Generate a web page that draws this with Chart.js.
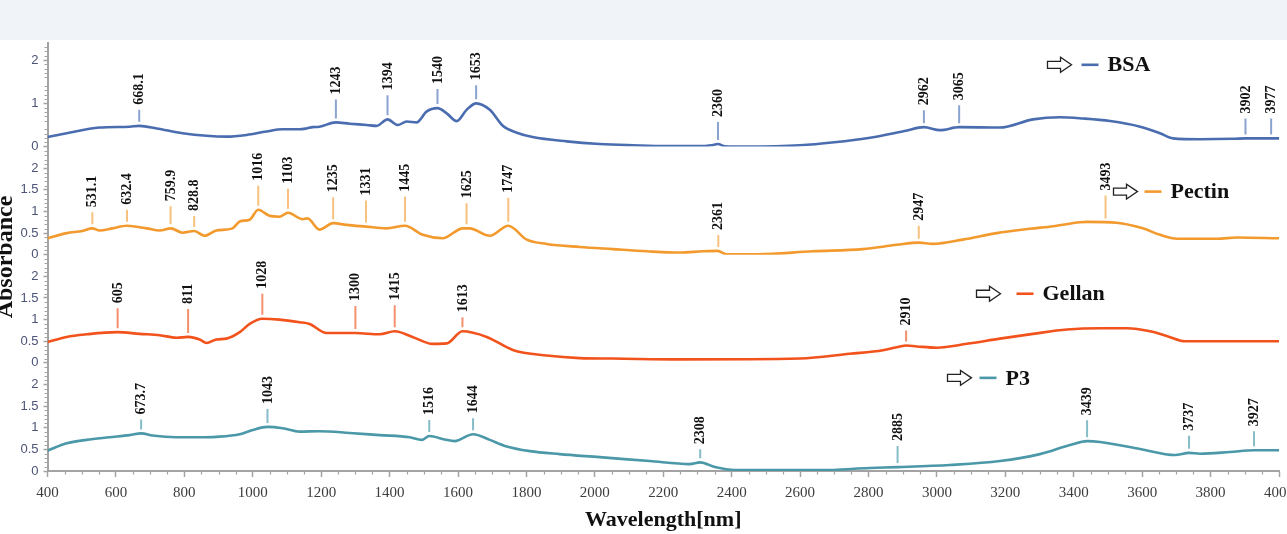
<!DOCTYPE html>
<html>
<head>
<meta charset="utf-8">
<script src="https://cdn.jsdelivr.net/npm/chart.js@4.4.0/dist/chart.umd.min.js"></script>
<style>
  html, body { margin: 0; padding: 0; background: #ffffff; }
  #wrap { position: relative; width: 1287px; height: 534px; overflow: hidden; }
  #band { position: absolute; left: 0; top: 0; width: 1287px; height: 40px; background: #f0f3f8; }
  #c { position: absolute; left: 0; top: 0; }
</style>
</head>
<body>
<div id="wrap">
  <div id="band"></div>
  <canvas id="c" width="1287" height="534"></canvas>
</div>
<script>
// ---- Spectra: wavelength (nm) and absorbance per sample ----
const bsaWl  = [400, 456, 552, 640, 669, 719, 795, 865, 923, 982, 1040, 1087, 1137, 1157, 1175, 1195, 1243, 1283, 1333, 1362, 1394, 1424, 1450, 1479, 1508, 1540, 1567, 1596, 1625, 1653, 1693, 1731, 1772, 1818, 1918, 2014, 2111, 2210, 2307, 2340, 2360, 2380, 2450, 2600, 2700, 2800, 2905, 2962, 3009, 3065, 3184, 3281, 3360, 3427, 3506, 3594, 3652, 3690, 3769, 3866, 3902, 3977, 4000];
const bsaAbs = [0.22, 0.31, 0.44, 0.46, 0.48, 0.42, 0.31, 0.25, 0.23, 0.27, 0.35, 0.40, 0.40, 0.42, 0.45, 0.46, 0.56, 0.53, 0.50, 0.48, 0.63, 0.50, 0.58, 0.56, 0.81, 0.89, 0.77, 0.59, 0.85, 1.00, 0.85, 0.48, 0.32, 0.22, 0.12, 0.06, 0.03, 0.01, 0.01, 0.03, 0.06, 0.01, 0.00, 0.03, 0.10, 0.20, 0.36, 0.45, 0.38, 0.45, 0.44, 0.63, 0.68, 0.65, 0.59, 0.46, 0.31, 0.19, 0.17, 0.18, 0.19, 0.19, 0.19];

const pectinWl  = [400, 456, 502, 531, 552, 590, 632, 690, 728, 760, 795, 829, 859, 894, 941, 962, 991, 1016, 1049, 1078, 1103, 1146, 1160, 1195, 1235, 1274, 1331, 1391, 1445, 1497, 1555, 1614, 1634, 1693, 1747, 1801, 1859, 1956, 2052, 2152, 2248, 2316, 2359, 2386, 2473, 2637, 2783, 2883, 2947, 2988, 3076, 3175, 3272, 3340, 3418, 3440, 3525, 3602, 3652, 3702, 3819, 3877, 4000];
const pectinAbs = [0.38, 0.50, 0.55, 0.61, 0.56, 0.61, 0.67, 0.61, 0.56, 0.61, 0.51, 0.55, 0.44, 0.56, 0.61, 0.77, 0.81, 1.04, 0.90, 0.88, 0.97, 0.82, 0.84, 0.58, 0.73, 0.69, 0.65, 0.61, 0.67, 0.46, 0.38, 0.61, 0.61, 0.44, 0.67, 0.35, 0.25, 0.18, 0.13, 0.08, 0.05, 0.08, 0.09, 0.01, 0.01, 0.08, 0.13, 0.23, 0.28, 0.25, 0.35, 0.50, 0.60, 0.66, 0.75, 0.76, 0.74, 0.61, 0.46, 0.37, 0.37, 0.40, 0.38];

const gellanWl  = [400, 456, 514, 605, 669, 728, 777, 811, 845, 865, 894, 923, 962, 991, 1028, 1078, 1137, 1166, 1216, 1300, 1371, 1415, 1467, 1526, 1567, 1613, 1684, 1760, 1859, 1956, 2052, 2248, 2600, 2745, 2842, 2892, 2910, 2941, 3000, 3088, 3184, 3281, 3380, 3477, 3556, 3623, 3680, 3725, 4000];
const gellanAbs = [0.48, 0.60, 0.66, 0.71, 0.67, 0.64, 0.58, 0.60, 0.54, 0.46, 0.54, 0.56, 0.71, 0.90, 1.02, 1.00, 0.94, 0.90, 0.69, 0.69, 0.66, 0.73, 0.60, 0.44, 0.45, 0.73, 0.60, 0.30, 0.17, 0.11, 0.10, 0.08, 0.10, 0.21, 0.29, 0.38, 0.40, 0.38, 0.35, 0.44, 0.56, 0.67, 0.77, 0.80, 0.80, 0.73, 0.60, 0.50, 0.50];

const p3Wl  = [400, 456, 514, 581, 640, 674, 707, 777, 845, 894, 962, 1000, 1043, 1087, 1137, 1195, 1283, 1371, 1459, 1494, 1516, 1561, 1590, 1644, 1693, 1737, 1810, 1897, 2014, 2160, 2277, 2308, 2351, 2409, 2658, 2804, 2885, 3038, 3184, 3301, 3389, 3439, 3477, 3594, 3696, 3737, 3769, 3857, 3927, 4000];
const p3Abs = [0.47, 0.64, 0.72, 0.78, 0.83, 0.87, 0.82, 0.78, 0.78, 0.79, 0.85, 0.95, 1.02, 0.99, 0.91, 0.92, 0.88, 0.83, 0.78, 0.72, 0.81, 0.73, 0.69, 0.85, 0.72, 0.58, 0.46, 0.39, 0.32, 0.23, 0.16, 0.20, 0.09, 0.02, 0.02, 0.07, 0.09, 0.14, 0.23, 0.39, 0.60, 0.69, 0.67, 0.51, 0.37, 0.42, 0.40, 0.44, 0.48, 0.48];

// ---- Annotated band positions (nm) ----
const bsaPeaks    = [668.1, 1243, 1394, 1540, 1653, 2360, 2962, 3065, 3902, 3977];
const pectinPeaks = [531.1, 632.4, 759.9, 828.8, 1016, 1103, 1235, 1331, 1445, 1625, 1747, 2361, 2947, 3493];
const gellanPeaks = [605, 811, 1028, 1300, 1415, 1613, 2910];
const p3Peaks     = [673.7, 1043, 1516, 1644, 2308, 2885, 3439, 3737, 3927];

// stem length (px) of each band marker
const bsaStems    = [12, 19, 20, 15, 14, 18, 13, 18, 16, 16];
const pectinStems = [12, 12, 18, 11, 20, 20, 22, 22, 25, 21, 24, 12, 13, 23];
const gellanStems = [20, 24, 21, 23, 22, 10, 11];
const p3Stems     = [10, 14, 12, 12, 9, 17, 17, 13, 15];

// ---- Axis ticks ----
const xTicks       = [400, 600, 800, 1000, 1200, 1400, 1600, 1800, 2000, 2200, 2400, 2600, 2800, 3000, 3200, 3400, 3600, 3800, 4000];
const bsaYTicks    = [0, 1, 2];
const panelYTicks  = [0, 0.5, 1, 1.5, 2];

const SERIF = '"Liberation Serif", "Times New Roman", serif';
const SANS  = '"Liberation Sans", Arial, sans-serif';
const AXIS_GRAY = '#a3a3a3';

function points(xs, ys) { return xs.map((x, i) => ({ x: x, y: ys[i] })); }

function yAxis(max, tickList) {
  return {
    type: 'linear', position: 'left', stack: 'spectra', stackWeight: max,
    min: 0, max: max,
    afterBuildTicks: s => { s.ticks = tickList.map(v => ({ value: v })); },
    ticks: { font: { family: SANS, size: 13 }, color: '#4b5377', padding: 5, autoSkip: false,
             callback: v => String(v) },
    grid: { drawOnChartArea: false, tickLength: 4, color: AXIS_GRAY, tickWidth: 1.5 },
    border: { color: AXIS_GRAY, width: 2 },
    afterFit: s => { s.width = 47.5; s.paddingTop = 0; s.paddingBottom = 0; }
  };
}

function series(label, xs, ys, axis, color, markColor, peaks, stems, legend) {
  return {
    label: label, data: points(xs, ys), yAxisID: axis,
    borderColor: color, backgroundColor: color, borderWidth: 2.6,
    pointRadius: 0, cubicInterpolationMode: 'monotone', fill: false,
    peaks: peaks, stems: stems, markColor: markColor, legend: legend
  };
}

function valueAt(ds, w) {
  const d = ds.data;
  for (let i = 1; i < d.length; i++) {
    if (w <= d[i].x) {
      const t = (w - d[i - 1].x) / (d[i].x - d[i - 1].x);
      return d[i - 1].y + t * (d[i].y - d[i - 1].y);
    }
  }
  return d[d.length - 1].y;
}

// Minor ticks on both axes
const minorTicks = {
  id: 'minorTicks',
  afterDraw(chart) {
    const ctx = chart.ctx, ca = chart.chartArea, xs = chart.scales.x;
    ctx.save();
    ctx.strokeStyle = AXIS_GRAY; ctx.lineWidth = 1.2;
    ctx.beginPath();
    for (let v = 450; v < 4000; v += 50) {
      if (v % 200 === 0) continue;
      const px = Math.round(xs.getPixelForValue(v)) + 0.5;
      ctx.moveTo(px, ca.bottom); ctx.lineTo(px, ca.bottom + 3.5);
    }
    ['yBsa', 'yPectin', 'yGellan', 'yP3'].forEach(id => {
      const s = chart.scales[id];
      for (let k = 1; k < Math.round(s.max * 10); k++) {
        if (k % 5 === 0) continue;
        const py = Math.round(s.getPixelForValue(k / 10)) + 0.5;
        ctx.moveTo(ca.left - 3, py); ctx.lineTo(ca.left, py);
      }
    });
    ctx.stroke();
    ctx.restore();
  }
};

// Band markers with rotated wavelength labels, and the per-panel legend
const bandLabels = {
  id: 'bandLabels',
  afterDatasetsDraw(chart) {
    const ctx = chart.ctx, ca = chart.chartArea, xs = chart.scales.x;
    chart.data.datasets.forEach(ds => {
      const ys = chart.scales[ds.yAxisID];
      ctx.save();
      ctx.beginPath();
      ctx.rect(0, ys.top, chart.width, ys.bottom - ys.top);
      ctx.clip();
      ds.peaks.forEach((w, i) => {
        const px = xs.getPixelForValue(w);
        const py = ys.getPixelForValue(valueAt(ds, w));
        const y0 = py - 4, y1 = y0 - ds.stems[i];
        ctx.strokeStyle = ds.markColor; ctx.lineWidth = 2;
        ctx.beginPath(); ctx.moveTo(px, y0); ctx.lineTo(px, y1); ctx.stroke();
        ctx.save();
        ctx.translate(px, y1 - 5);
        ctx.rotate(-Math.PI / 2);
        ctx.fillStyle = '#111111';
        ctx.font = 'bold 14px ' + SERIF;
        ctx.textAlign = 'left'; ctx.textBaseline = 'middle';
        ctx.fillText(String(w), 0, 0.5);
        ctx.restore();
      });
      ctx.restore();

      // legend: hollow arrow, colour dash, name
      const lg = ds.legend;
      const ax = ca.left + lg.dx, ay = ys.top + lg.dy;
      ctx.save();
      ctx.beginPath();
      ctx.moveTo(ax, ay - 3.5); ctx.lineTo(ax + 13, ay - 3.5); ctx.lineTo(ax + 13, ay - 7.5);
      ctx.lineTo(ax + 24, ay); ctx.lineTo(ax + 13, ay + 7.5); ctx.lineTo(ax + 13, ay + 3.5);
      ctx.lineTo(ax, ay + 3.5); ctx.closePath();
      ctx.fillStyle = '#ffffff'; ctx.fill();
      ctx.strokeStyle = '#222222'; ctx.lineWidth = 1.3; ctx.stroke();
      ctx.strokeStyle = ds.borderColor; ctx.lineWidth = 2.6;
      ctx.beginPath(); ctx.moveTo(ax + lg.dash, ay); ctx.lineTo(ax + lg.dash + 17, ay); ctx.stroke();
      ctx.fillStyle = '#111111';
      ctx.font = 'bold 22px ' + SERIF;
      ctx.textAlign = 'left'; ctx.textBaseline = 'middle';
      ctx.fillText(ds.label, ax + lg.dash + 26, ay + 1);
      ctx.restore();
    });

    // vertical axis title, partly past the left edge
    ctx.save();
    ctx.translate(12, 257);
    ctx.rotate(-Math.PI / 2);
    ctx.fillStyle = '#111111';
    ctx.font = 'bold 24px ' + SERIF;
    ctx.textAlign = 'center'; ctx.textBaseline = 'alphabetic';
    ctx.fillText('Absorbance', 0, 0);
    ctx.restore();
  }
};

new Chart(document.getElementById('c'), {
  type: 'line',
  data: {
    datasets: [
      series('BSA', bsaWl, bsaAbs, 'yBsa', '#4a6db0', '#8aa3d0', bsaPeaks, bsaStems, { dx: 1000, dy: 22, dash: 34 }),
      series('Pectin', pectinWl, pectinAbs, 'yPectin', '#f39a2e', '#f8c17f', pectinPeaks, pectinStems, { dx: 1066, dy: 45, dash: 31 }),
      series('Gellan', gellanWl, gellanAbs, 'yGellan', '#f2521c', '#f5906f', gellanPeaks, gellanStems, { dx: 929, dy: 39, dash: 40 }),
      series('P3', p3Wl, p3Abs, 'yP3', '#4a98a8', '#86bcc7', p3Peaks, p3Stems, { dx: 900, dy: 15, dash: 32 })
    ]
  },
  options: {
    responsive: false,
    animation: false,
    layout: { padding: { top: 42.8, right: 8, left: 0, bottom: 0 } },
    plugins: { legend: { display: false }, tooltip: { enabled: false } },
    scales: {
      x: {
        type: 'linear', position: 'bottom', min: 400, max: 4000,
        afterBuildTicks: s => { s.ticks = xTicks.map(v => ({ value: v })); },
        ticks: { font: { family: SERIF, size: 15 }, color: '#3d3d3d', padding: 7, autoSkip: false, maxRotation: 0,
                 callback: v => String(v) },
        grid: { drawOnChartArea: false, tickLength: 6, color: AXIS_GRAY, tickWidth: 1.5 },
        border: { color: AXIS_GRAY, width: 2 },
        title: { display: true, text: 'Wavelength[nm]', color: '#111111',
                 font: { family: SERIF, size: 22, weight: 'bold' }, padding: { top: 0, bottom: 0 } },
        afterFit: s => { s.height = 63; s.paddingLeft = 0; s.paddingRight = 0; }
      },
      yP3: yAxis(2.5, panelYTicks),
      yGellan: yAxis(2.5, panelYTicks),
      yPectin: yAxis(2.5, panelYTicks),
      yBsa: yAxis(2.4, bsaYTicks)
    }
  },
  plugins: [minorTicks, bandLabels]
});
</script>
</body>
</html>
